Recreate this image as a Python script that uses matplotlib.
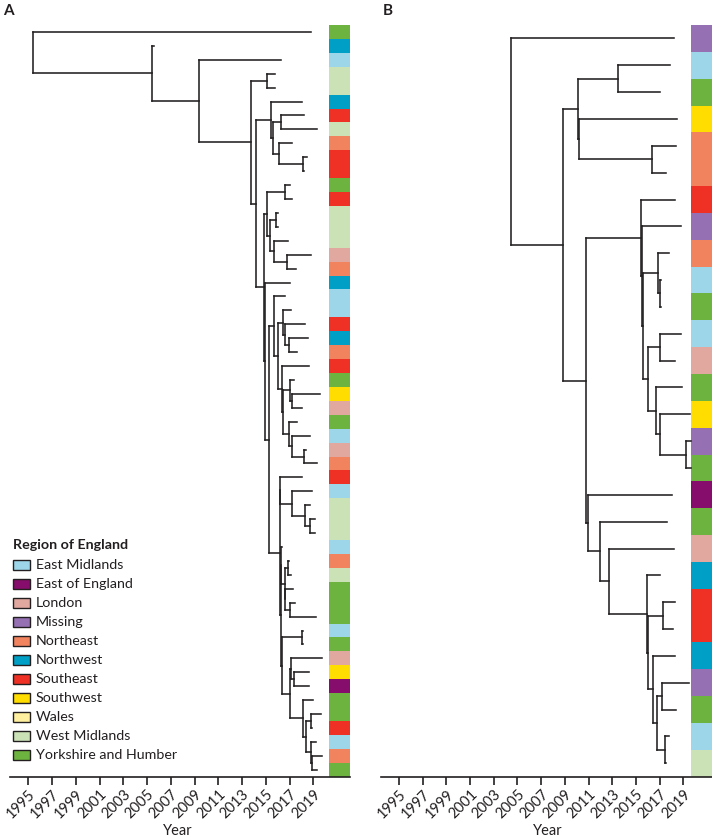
import matplotlib
matplotlib.use('Agg')
import matplotlib.pyplot as plt
from matplotlib.patches import Rectangle
from matplotlib.collections import LineCollection

# ---------------- data ----------------
region_names = ["East Midlands", "East of England", "London", "Missing", "Northeast",
                "Northwest", "Southeast", "Southwest", "Wales", "West Midlands",
                "Yorkshire and Humber"]
region_colors = ["#9dd6e8", "#860d6b", "#e1a8a0", "#9571b3", "#f2835f",
                 "#00a0c6", "#ee3124", "#ffdd00", "#fff0a0", "#cbe2b7", "#6db33f"]

# Newick-like trees; the number after each node is its date (decimal year)
tree_a = ("(2018.78,(2005.58,(2016.25,((2015.77,2015.77):2015.07,"
          "((2018.02,((2018.24,2019.28):2016.28,(2017.18,(2018.44,2018.18):2018.16):2016.11):2015.63):2015.44,"
          "(((2017.04,2017.18):2016.61,((2016.05,2016.00):2015.86,(2016.84,(2018.80,2017.54):2016.76):2015.71):2015.35):2015.12,"
          "(2017.04,((2016.61,((2017.12,(2018.30,(2018.58,2017.60):2016.95):2016.61):2016.47,"
          "(2018.64,((2017.40,(2019.56,2018.02):2017.18):2017.04,(2017.60,(2018.72,(2018.36,2019.28):2018.24):2017.18):2016.95):2016.47):2016.34):2016.05):2015.71,"
          "((2018.02,(2018.91,(2018.72,(2019.14,2019.14):2018.72):2018.30):2017.18):2016.22,"
          "((2016.37,((2016.98,2017.12):2016.84,(2017.31,(2017.46,2019.20):2017.04):2016.64):2016.59):2016.28,"
          "((2018.16,2018.16):2018.02,((2019.76,(2018.64,2018.64):2017.40):2017.12,"
          "(2018.99,((2019.65,2018.85):2018.80,(2019.20,(2019.76,2019.28):2018.86):2018.80):2018.36):2018.16):2017.04):2016.36):2016.25):2016.17):2015.29)"
          ":2014.93):2014.87):2014.15):2013.73):2009.37):2005.44):1995.37")

regions_a = ["Yorkshire and Humber", "Northwest", "East Midlands", "West Midlands", "West Midlands",
             "Northwest", "Southeast", "West Midlands", "Northeast", "Southeast",
             "Southeast", "Yorkshire and Humber", "Southeast", "West Midlands", "West Midlands",
             "West Midlands", "London", "Northeast", "Northwest", "East Midlands",
             "East Midlands", "Southeast", "Northwest", "Northeast", "Southeast",
             "Yorkshire and Humber", "Southwest", "London", "Yorkshire and Humber", "East Midlands",
             "London", "Northeast", "Southeast", "East Midlands", "West Midlands",
             "West Midlands", "West Midlands", "East Midlands", "Northeast", "West Midlands",
             "Yorkshire and Humber", "Yorkshire and Humber", "Yorkshire and Humber", "East Midlands",
             "Yorkshire and Humber", "London", "Southwest", "East of England", "Yorkshire and Humber",
             "Yorkshire and Humber", "Southeast", "East Midlands", "Northeast", "Yorkshire and Humber"]

tree_b = ("(2018.21,(((2017.87,2017.03):2013.46,(2018.43,(2018.35,2017.51):2016.32):2010.15):2010.08,"
          "((2018.32,(2018.77,((2017.78,(2017.11,2017.11):2017.00):2016.88,"
          "((2018.80,2018.29):2017.03,(2018.86,(2019.56,(2019.60,2019.60):2019.22):2017.05):2016.66):2016.04):2015.57):2015.49):2015.42,"
          "(2018.06,(2017.59,(2018.18,(2017.05,((2018.29,2018.10):2017.30,(2018.29,((2019.47,2018.38):2017.17,"
          "(2017.81,2017.49):2017.42):2016.77):2016.46):2015.99):2015.95):2012.75):2011.99):2010.97):2010.78):2008.84):2004.45")

regions_b = ["Missing", "East Midlands", "Yorkshire and Humber", "Southwest", "Northeast",
             "Northeast", "Southeast", "Missing", "Northeast", "East Midlands",
             "Yorkshire and Humber", "East Midlands", "London", "Yorkshire and Humber", "Southwest",
             "Missing", "Yorkshire and Humber", "East of England", "Yorkshire and Humber", "London",
             "Northwest", "Southeast", "Southeast", "Northwest", "Missing",
             "Yorkshire and Humber", "East Midlands", "West Midlands"]

tick_years = list(range(1995, 2020, 2))
panel_labels = ["A", "B"]
legend_title = "Region of England"
axis_label = "Year"

# ---------------- helpers ----------------
def parse(s):
    s = s.replace(' ', '')
    pos = 0

    def num():
        nonlocal pos
        j = pos
        while pos < len(s) and (s[pos].isdigit() or s[pos] == '.'):
            pos += 1
        return float(s[j:pos])

    def node():
        nonlocal pos
        if s[pos] == '(':
            pos += 1
            kids = [node()]
            while s[pos] == ',':
                pos += 1
                kids.append(node())
            pos += 1  # ')'
            pos += 1  # ':'
            return {'t': num(), 'kids': kids}
        return {'t': num(), 'kids': []}

    return node()


def layout(n, counter):
    if not n['kids']:
        n['y'] = counter[0] + 0.5
        counter[0] += 1
    else:
        for k in n['kids']:
            layout(k, counter)
        n['y'] = (n['kids'][0]['y'] + n['kids'][-1]['y']) / 2


def segments(n, out):
    if n['kids']:
        ys = [k['y'] for k in n['kids']]
        out.append([(n['t'], min(ys)), (n['t'], max(ys))])
        for k in n['kids']:
            out.append([(n['t'], k['y']), (k['t'], k['y'])])
            segments(k, out)


W, H = 712, 838
fig = plt.figure(figsize=(W / 100, H / 100), dpi=100)
FONT = ['Lato', 'DejaVu Sans']
plt.rcParams['font.family'] = FONT


def px_axes(x0, x1, y0, y1):
    return fig.add_axes([x0 / W, 1 - y1 / H, (x1 - x0) / W, (y1 - y0) / H])


color_of = dict(zip(region_names, region_colors))

# pixel geometry: (axes left px, axes right px, px of 1995, px per year, strip left px, strip right px)
panels = [
    (tree_a, regions_a, 10, 350, 28.33, 11.875, 329.0, 349.7),
    (tree_b, regions_b, 381, 712, 399.0, 11.85, 691.0, 712.0),
]
top_px, bottom_px = 25.0, 776.7

for (tree_s, regs, x0, x1, p95, ppy, s0, s1), lab in zip(panels, panel_labels):
    ax = px_axes(x0, x1, top_px, bottom_px)
    to_year = lambda p: 1995 + (p - p95) / ppy
    ax.set_xlim(to_year(x0), to_year(x1))
    n = len(regs)
    ax.set_ylim(n, 0)

    root = parse(tree_s)
    layout(root, [0])
    segs = []
    segments(root, segs)
    lc = LineCollection(segs, colors='#231f20', linewidths=1.15, capstyle='projecting')
    ax.add_collection(lc)

    ys0, ys1 = to_year(s0), to_year(s1)
    for i, r in enumerate(regs):
        ax.add_patch(Rectangle((ys0, i), ys1 - ys0, 1, facecolor=color_of[r],
                               edgecolor='none', clip_on=False))

    for sp in ['left', 'right', 'top']:
        ax.spines[sp].set_visible(False)
    ax.spines['bottom'].set_linewidth(1.2)
    ax.spines['bottom'].set_color('#231f20')
    ax.set_yticks([])
    ax.set_xticks(tick_years)
    ax.set_xticklabels([str(t) for t in tick_years], rotation=45, ha='right',
                       rotation_mode='anchor', fontsize=10.5, color='#231f20')
    ax.tick_params(axis='x', length=6, width=1.2, color='#231f20', pad=1.5)
    ax.patch.set_alpha(0)

    cx = (p95 + 24 * ppy / 2) + 7
    fig.text(cx / W, 1 - 831 / H, axis_label, ha='center', va='center', fontsize=10.5, color='#231f20')
    fig.text((x0 - 7 if lab == 'A' else x0 + 2) / W, 1 - 11 / H, lab, ha='left', va='center',
             fontsize=11, fontweight='bold', color='#231f20')

# legend
fig.text(13 / W, 1 - 545 / H, legend_title, ha='left', va='center', fontsize=10.3,
         fontweight='bold', color='#231f20')
for i, (name, col) in enumerate(zip(region_names, region_colors)):
    yc = 565 + i * 19.0
    fig.patches.append(Rectangle((12.5 / W, 1 - (yc + 5) / H), 17.5 / W, 10 / H,
                                 facecolor=col, edgecolor='#231f20', linewidth=1.0,
                                 transform=fig.transFigure, figure=fig))
    fig.text(35.5 / W, 1 - yc / H, name, ha='left', va='center', fontsize=10.3, color='#231f20')

fig.savefig('out.png', dpi=100)
